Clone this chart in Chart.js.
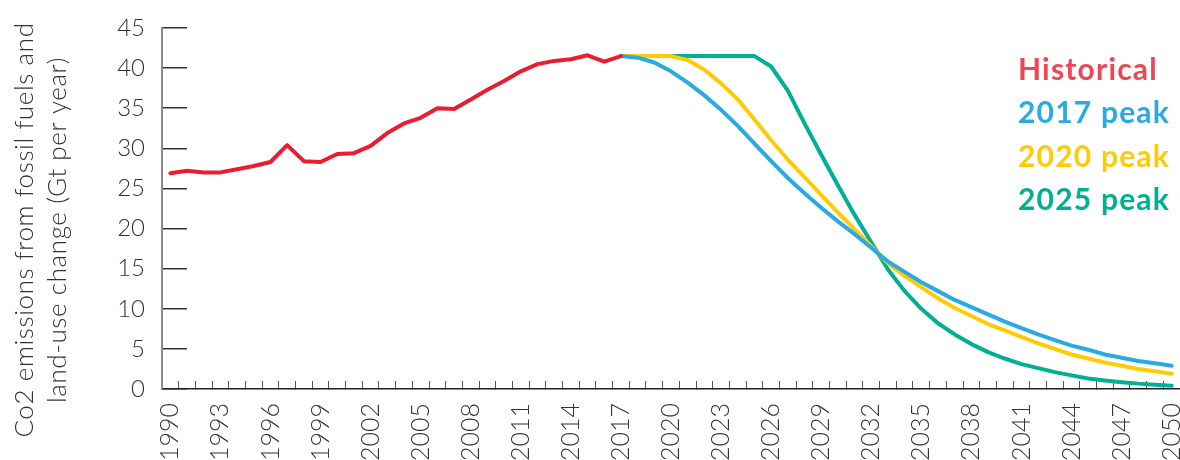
<!DOCTYPE html>
<html>
<head>
<meta charset="utf-8">
<script src="https://cdn.jsdelivr.net/npm/chart.js@4.4.1/dist/chart.umd.min.js"></script>
<style>
  html, body { margin: 0; padding: 0; background: #fff; }
</style>
</head>
<body>
<canvas id="chart" width="1180" height="460"></canvas>
<script>
const years = [
  1990, 1991, 1992, 1993, 1994, 1995, 1996, 1997, 1998, 1999,
  2000, 2001, 2002, 2003, 2004, 2005, 2006, 2007, 2008, 2009,
  2010, 2011, 2012, 2013, 2014, 2015, 2016, 2017, 2018, 2019,
  2020, 2021, 2022, 2023, 2024, 2025, 2026, 2027, 2028, 2029,
  2030, 2031, 2032, 2033, 2034, 2035, 2036, 2037, 2038, 2039,
  2040, 2041, 2042, 2043, 2044, 2045, 2046, 2047, 2048, 2049, 2050
];
const shownYears = [
  1990, 1993, 1996, 1999, 2002, 2005, 2008, 2011, 2014, 2017, 2020,
  2023, 2026, 2029, 2032, 2035, 2038, 2041, 2044, 2047, 2050
];

// 1990 - 2017
const historical = [
  26.9, 27.2, 27.0, 27.0, 27.4, 27.8, 28.3, 30.4, 28.4, 28.3,
  29.3, 29.4, 30.3, 31.9, 33.1, 33.8, 35.0, 34.9, 36.1, 37.3,
  38.4, 39.6, 40.5, 40.9, 41.1, 41.6, 40.8, 41.5
];
// 2017 - 2050
const peak2017 = [
  41.5, 41.3, 40.7, 39.6, 38.2, 36.6, 34.8, 32.8, 30.6, 28.4,
  26.3, 24.4, 22.6, 20.9, 19.3, 17.6, 15.9, 14.6, 13.3, 12.2,
  11.1, 10.2, 9.3, 8.4, 7.6, 6.8, 6.1, 5.4, 4.9, 4.3,
  3.9, 3.5, 3.2, 2.9
];
const peak2020 = [
  41.5, 41.5, 41.5, 41.5, 41.0, 39.8, 38.1, 36.1, 33.6, 31.0,
  28.6, 26.4, 24.2, 22.0, 19.9, 17.8, 15.7, 14.1, 12.7, 11.3,
  10.1, 9.1, 8.1, 7.3, 6.5, 5.7, 5.0, 4.3, 3.8, 3.3,
  2.9, 2.5, 2.2, 1.9
];
const peak2025 = [
  41.5, 41.5, 41.5, 41.5, 41.5, 41.5, 41.5, 41.5, 41.5, 40.2,
  37.2, 33.1, 29.2, 25.4, 21.7, 18.3, 14.9, 12.2, 10.0, 8.2,
  6.8, 5.6, 4.6, 3.8, 3.1, 2.6, 2.1, 1.7, 1.3, 1.05,
  0.85, 0.67, 0.54, 0.42
];

const seriesLabels = ['Historical', '2017 peak', '2020 peak', '2025 peak'];
const lineColors = ['#ec1c2e', '#29abe2', '#ffcb05', '#00b092'];
const textColors = ['#ee4653', '#29abe2', '#ffcb05', '#00b092'];

const blanks = n => Array(n).fill(null);
const histData = historical.concat(blanks(years.length - historical.length));
const fromPeak = arr => blanks(years.length - arr.length).concat(arr);

const lineStyle = (i) => ({
  label: seriesLabels[i],
  borderColor: lineColors[i],
  textColor: textColors[i],
  borderWidth: 4,
  pointRadius: 0,
  tension: 0,
  fill: false,
  borderCapStyle: 'round',
  borderJoinStyle: 'round',
});

// axis title sits on the canvas centre, not the plot centre
const yTitle = {
  id: 'yTitle',
  afterDraw(chart) {
    const ctx = chart.ctx;
    ctx.save();
    ctx.translate(25, 230);
    ctx.rotate(-Math.PI / 2);
    ctx.font = '300 26px Lato';
    ctx.letterSpacing = '0.6px';
    ctx.fillStyle = '#333';
    ctx.textAlign = 'center';
    ctx.textBaseline = 'middle';
    ctx.fillText('Co2 emissions from fossil fuels and', 0, 0);
    ctx.fillText('land-use change (Gt per year)', 0, 33);
    ctx.restore();
  }
};

const legendText = {
  id: 'legendText',
  afterDraw(chart) {
    const ctx = chart.ctx;
    ctx.save();
    ctx.font = 'bold 30px Lato';
    ctx.letterSpacing = '1.2px';
    ctx.textBaseline = 'alphabetic';
    chart.data.datasets.forEach((ds, i) => {
      ctx.fillStyle = ds.textColor;
      ctx.fillText(ds.label, 1018, 79.5 + i * 43.5);
    });
    ctx.restore();
  }
};

const noPad = scale => {
  scale.paddingTop = 0;
  scale.paddingBottom = 0;
  scale.paddingLeft = 0;
  scale.paddingRight = 0;
};

new Chart(document.getElementById('chart').getContext('2d'), {
  type: 'line',
  data: {
    labels: years,
    datasets: [
      { ...lineStyle(0), data: histData },
      { ...lineStyle(1), data: fromPeak(peak2017) },
      { ...lineStyle(2), data: fromPeak(peak2020) },
      { ...lineStyle(3), data: fromPeak(peak2025) },
    ],
  },
  options: {
    responsive: false,
    animation: false,
    devicePixelRatio: 1,
    layout: { padding: { top: 28, right: 0, left: 0, bottom: 0 } },
    plugins: {
      legend: { display: false },
      tooltip: { enabled: false },
    },
    scales: {
      x: {
        offset: true,
        grid: {
          offset: true,
          drawOnChartArea: false,
          tickLength: -8,
          color: '#555',
          lineWidth: 1,
        },
        border: { color: '#222', width: 1.5 },
        ticks: {
          autoSkip: false,
          minRotation: 90,
          maxRotation: 90,
          padding: 22,
          color: '#333',
          font: { family: 'Lato', size: 25, weight: '300' },
          callback: function (value, index) {
            const yr = years[index];
            return shownYears.includes(yr) ? String(yr) : '';
          },
        },
        afterFit: scale => { scale.height = 71; noPad(scale); },
      },
      y: {
        min: 0,
        max: 45,
        grid: {
          drawOnChartArea: false,
          tickLength: -25,
          color: '#333',
          lineWidth: 1.5,
        },
        border: { color: '#8a8a8a', width: 2 },
        ticks: {
          stepSize: 5,
          padding: 42,
          color: '#333',
          font: { family: 'Lato', size: 24, weight: '300' },
        },
        afterFit: scale => { scale.width = 162; noPad(scale); },
      },
    },
  },
  plugins: [yTitle, legendText],
});
</script>
</body>
</html>
